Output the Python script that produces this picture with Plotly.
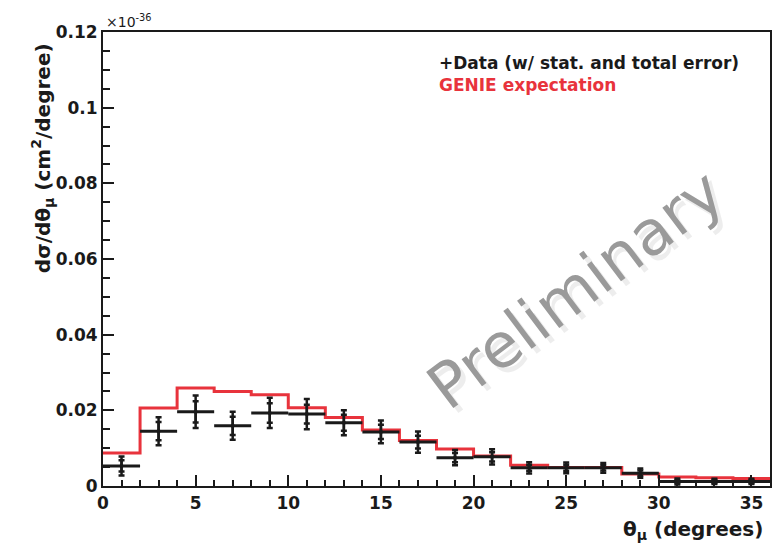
import plotly.graph_objects as go

# Muon angle bins (degrees), 2-degree wide
bin_edges = [0, 2, 4, 6, 8, 10, 12, 14, 16, 18, 20, 22, 24, 26, 28, 30, 32, 34, 36]
bin_centers = [1, 3, 5, 7, 9, 11, 13, 15, 17, 19, 21, 23, 25, 27, 29, 31, 33, 35]

# Differential cross section, in units of 1e-36 cm^2/degree
genie_xsec = [0.0087, 0.0206, 0.0259, 0.0250, 0.0241, 0.0207, 0.0181, 0.0148, 0.0120,
              0.0098, 0.0079, 0.0055, 0.0049, 0.0049, 0.0032, 0.0024, 0.0022, 0.0020]
data_xsec = [0.0053, 0.0145, 0.0196, 0.0159, 0.0193, 0.0190, 0.0167, 0.0143, 0.0116,
             0.0075, 0.0077, 0.0048, 0.0048, 0.0048, 0.0034, 0.0012, 0.0012, 0.0012]
total_err = [0.0025, 0.0037, 0.0043, 0.0037, 0.0040, 0.0040, 0.0033, 0.0030, 0.0028,
             0.0020, 0.0020, 0.0015, 0.0014, 0.0013, 0.0012, 0.0008, 0.0007, 0.0007]
stat_err = [0.0015, 0.0024, 0.0028, 0.0024, 0.0026, 0.0025, 0.0021, 0.0019, 0.0017,
            0.0012, 0.0012, 0.0008, 0.0008, 0.0007, 0.0007, 0.0004, 0.0004, 0.0004]
half_width = [1.0] * len(bin_centers)

y_tickvals = [0, 0.02, 0.04, 0.06, 0.08, 0.1, 0.12]
y_ticktext = ["0", "0.02", "0.04", "0.06", "0.08", "0.1", "0.12"]
x_tickvals = [0, 5, 10, 15, 20, 25, 30, 35]
x_ticktext = ["0", "5", "10", "15", "20", "25", "30", "35"]

RED = "#e8333c"
INK = "#1a1a1a"
FONT = "DejaVu Sans"

fig = go.Figure()

# GENIE prediction as a step histogram
fig.add_trace(go.Scatter(
    x=bin_edges,
    y=genie_xsec + [genie_xsec[-1]],
    mode="lines",
    line=dict(color=RED, width=3, shape="hv"),
    hoverinfo="skip",
    showlegend=False,
))

# Data: total error with bin-width horizontal bars
fig.add_trace(go.Scatter(
    x=bin_centers,
    y=data_xsec,
    mode="markers",
    marker=dict(size=4, color=INK),
    error_x=dict(type="data", array=half_width, color=INK, thickness=3, width=0),
    error_y=dict(type="data", array=total_err, color=INK, thickness=2.5, width=3),
    showlegend=False,
))

# Data: statistical error ticks
fig.add_trace(go.Scatter(
    x=bin_centers,
    y=data_xsec,
    mode="markers",
    marker=dict(size=1, color=INK),
    error_y=dict(type="data", array=stat_err, color=INK, thickness=2.5, width=3),
    showlegend=False,
))

# Plot area geometry (pixels)
L, R, T, B = 103, 772, 32, 486
W, H = 775, 544


def px(xp):
    return (xp - L) / (R - L)


def py(yp):
    return (B - yp) / (B - T)


legend_text = (
    "<b>+Data (w/ stat. and total error)</b><br>"
    f"<b><span style='color:{RED}'>GENIE expectation</span></b>"
)

annotations = [
    # watermark shadow and text
    dict(x=px(581), y=py(294), text="Preliminary", textangle=-37, showarrow=False,
         xanchor="center", yanchor="middle",
         font=dict(family=FONT, size=62, color="rgba(0,0,0,0.07)"),
         xref="paper", yref="paper"),
    dict(x=px(576), y=py(289), text="Preliminary", textangle=-37, showarrow=False,
         xanchor="center", yanchor="middle",
         font=dict(family=FONT, size=62, color="#9a9a9a"),
         xref="paper", yref="paper"),
    # legend block
    dict(x=px(438), y=py(74), text=legend_text, align="left",
         xanchor="left", yanchor="middle", showarrow=False,
         font=dict(family=FONT, size=17, color=INK), xref="paper", yref="paper"),
    # axis scale factor
    dict(x=px(104), y=py(32), text="×10<sup>-36</sup>", xanchor="left", yanchor="bottom",
         showarrow=False, font=dict(family=FONT, size=14, color=INK),
         xref="paper", yref="paper"),
    # axis titles
    dict(x=px(767), y=py(530), text="<b>θ<sub>μ</sub> (degrees)</b>", xanchor="right",
         yanchor="middle", showarrow=False, font=dict(family=FONT, size=20, color=INK),
         xref="paper", yref="paper"),
    dict(x=px(42), y=py(158), text="<b>dσ/dθ<sub>μ</sub> (cm<sup>2</sup>/degree)</b>",
         textangle=-90, xanchor="center", yanchor="middle", showarrow=False,
         font=dict(family=FONT, size=20, color=INK), xref="paper", yref="paper"),
]

axis_common = dict(
    showline=True, linecolor=INK, linewidth=2, mirror=True,
    ticks="inside", tickcolor=INK, tickwidth=1.5, ticklen=11,
    showgrid=False, zeroline=False,
    tickfont=dict(family=FONT, size=17, color=INK, weight="bold"),
)

fig.update_layout(
    width=W, height=H,
    margin=dict(l=L, r=W - R, t=T, b=H - B),
    paper_bgcolor="white", plot_bgcolor="white",
    xaxis=dict(range=[0, 36], tickmode="array", tickvals=x_tickvals, ticktext=x_ticktext,
               minor=dict(dtick=1, tick0=0, ticks="inside", ticklen=6, tickcolor=INK,
                          tickwidth=1.5),
               ticklabelstandoff=1, **axis_common),
    yaxis=dict(range=[0, 0.12], tickmode="array", tickvals=y_tickvals, ticktext=y_ticktext,
               minor=dict(dtick=0.005, tick0=0, ticks="inside", ticklen=7, tickcolor=INK,
                          tickwidth=1.5),
               **axis_common),
    annotations=annotations,
    showlegend=False,
)

fig.write_html("out.html")
